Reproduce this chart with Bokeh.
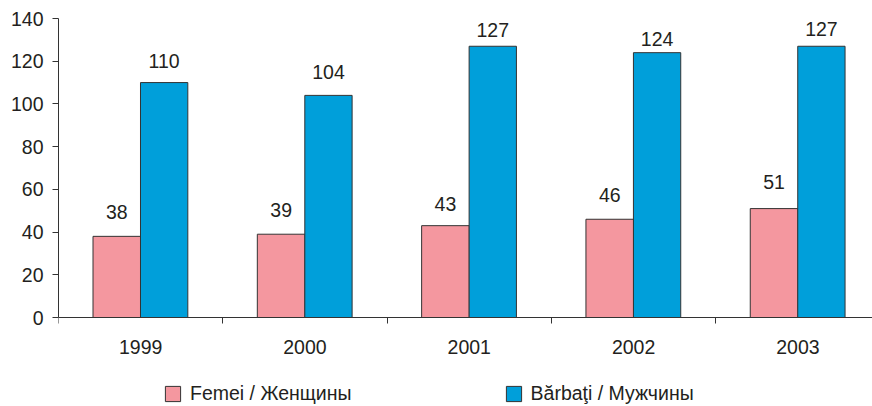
import numpy as np
from bokeh.plotting import figure
from bokeh.models import (ColumnDataSource, FixedTicker, Legend, LegendItem,
                          LabelSet, LinearAxis)
from bokeh.core.properties import value
from bokeh.embed import file_html
from bokeh.resources import INLINE

years = ["1999", "2000", "2001", "2002", "2003"]
femei = [38, 39, 43, 46, 51]
barbati = [110, 104, 127, 124, 127]
y_ticks = [0, 20, 40, 60, 80, 100, 120, 140]
series_names = ["Femei / Женщины", "Bărbaţi / Мужчины"]

# per-label vertical offsets (px) of the value labels, as placed in the original
femei_label_dy = [17, 17, 15, 17, 20]
barbati_label_dy = [15, 16, 9, 7, 10]

PINK = "#F4979F"
BLUE = "#009FDA"
EDGE = "#333333"
TXT = "#231F20"
FONT = "Liberation Sans"
FS = "19.5px"

centers = np.arange(len(years)) + 0.5
src = ColumnDataSource(dict(
    xf=centers - 0.145, xb=centers + 0.143,
    f=femei, b=barbati,
    fl=[str(v) for v in femei], bl=[str(v) for v in barbati],
    fdy=femei_label_dy, bdy=barbati_label_dy,
))

p = figure(width=872, height=406, x_range=(0, 4.954), y_range=(-41.67, 140),
           output_backend="svg", toolbar_location=None,
           min_border_left=58, min_border_top=18, min_border_right=0,
           min_border_bottom=0, x_axis_location=None, y_axis_location=None)
p.outline_line_color = None
p.xgrid.visible = False
p.ygrid.visible = False

rf = p.vbar(x="xf", top="f", width=0.29, source=src, fill_color=PINK,
            line_color=EDGE, line_width=1)
rb = p.vbar(x="xb", top="b", width=0.288, source=src, fill_color=BLUE,
            line_color=EDGE, line_width=1)

for col, top, lab, dy in (("xf", "f", "fl", "fdy"), ("xb", "b", "bl", "bdy")):
    p.add_layout(LabelSet(x=col, y=top, text=lab, source=src, y_offset=dy,
                          text_align="center", text_baseline="alphabetic",
                          text_font=value(FONT), text_font_size=FS,
                          text_color=TXT))

yaxis = LinearAxis(ticker=FixedTicker(ticks=y_ticks), bounds=(0, 140))
yaxis.axis_line_color = EDGE
yaxis.major_tick_line_color = EDGE
yaxis.major_tick_out = 6
yaxis.major_tick_in = 0
yaxis.minor_tick_line_color = None
yaxis.major_label_standoff = 9
yaxis.major_label_text_font = FONT
yaxis.major_label_text_font_size = FS
yaxis.major_label_text_color = TXT
p.add_layout(yaxis, "left")

xaxis = LinearAxis(ticker=FixedTicker(ticks=list(centers),
                                      minor_ticks=list(range(len(years) + 1))),
                   fixed_location=0)
xaxis.major_label_overrides = {float(c): y for c, y in zip(centers, years)}
xaxis.axis_line_color = EDGE
xaxis.major_tick_line_color = None
xaxis.major_tick_out = 0
xaxis.major_tick_in = 0
xaxis.minor_tick_line_color = EDGE
xaxis.minor_tick_out = 6
xaxis.minor_tick_in = 0
xaxis.major_label_standoff = 16
xaxis.major_label_text_font = FONT
xaxis.major_label_text_font_size = FS
xaxis.major_label_text_color = TXT
p.add_layout(xaxis, "below")

legend = Legend(items=[LegendItem(label=series_names[0], renderers=[rf]),
                       LegendItem(label=series_names[1], renderers=[rb])],
                orientation="horizontal", location=(105, 1), spacing=152,
                glyph_width=19, glyph_height=19, label_standoff=8,
                label_text_font=FONT, label_text_font_size=FS,
                label_text_color=TXT, border_line_color=None,
                background_fill_alpha=0, padding=0, margin=0)
p.add_layout(legend, "center")

open("out.html", "w").write(file_html(p, INLINE))
